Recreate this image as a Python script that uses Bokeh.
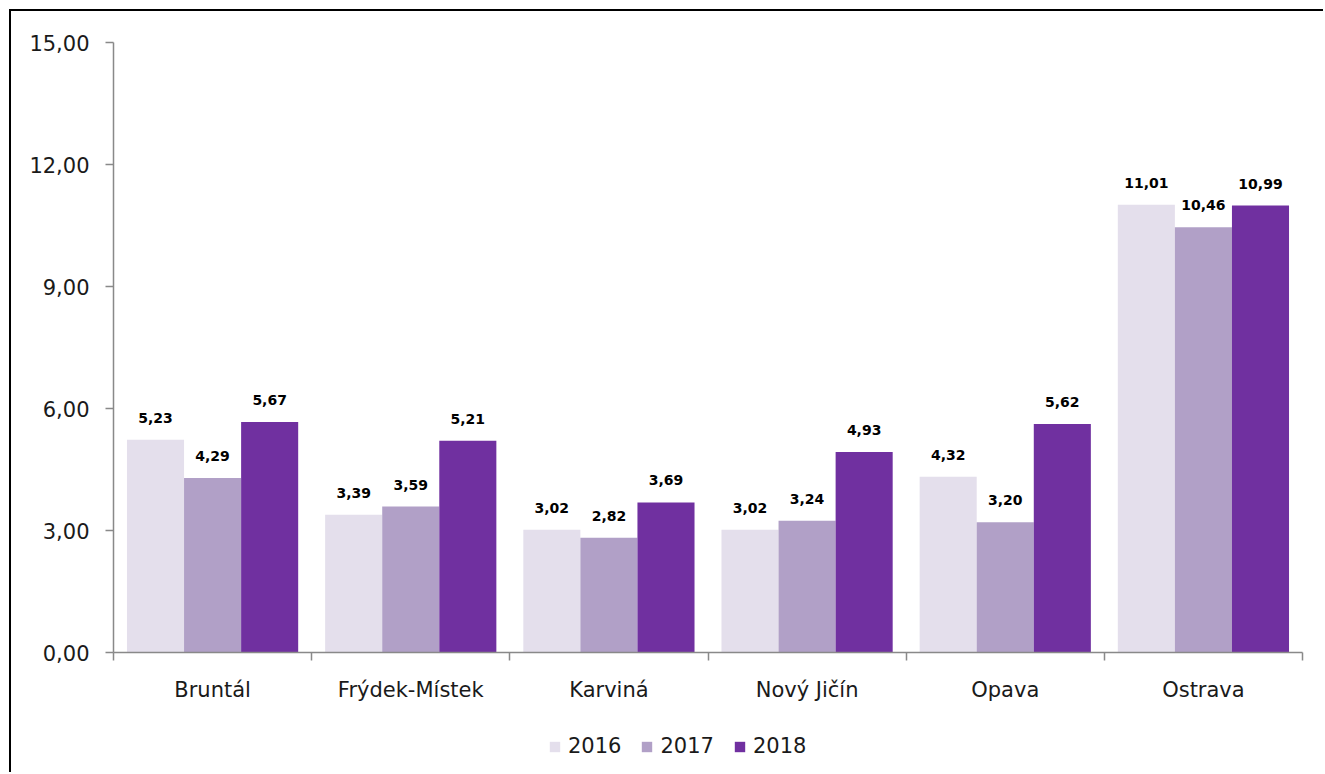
from bokeh.plotting import figure
from bokeh.layouts import column
from bokeh.models import (Range1d, FixedTicker, LinearAxis, Legend, LegendItem,
                          ColumnDataSource, LabelSet)
from bokeh.embed import file_html
from bokeh.resources import INLINE
from bokeh.core.properties import value

cities = ["Bruntál", "Frýdek-Místek", "Karviná", "Nový Jičín", "Opava", "Ostrava"]
years = ["2016", "2017", "2018"]
v2016 = [5.23, 3.39, 3.02, 3.02, 4.32, 11.01]
v2017 = [4.29, 3.59, 2.82, 3.24, 3.20, 10.46]
v2018 = [5.67, 5.21, 3.69, 4.93, 5.62, 10.99]
y_ticks = [0, 3, 6, 9, 12, 15]
y_tick_labels = ["0,00", "3,00", "6,00", "9,00", "12,00", "15,00"]
colors = ["#E4DFEC", "#B1A0C7", "#7030A0"]

FONT = "DejaVu Sans"
TXT = "#1a1a1a"
AX = "#898989"
bar_w = 0.288
W = 1312

p = figure(width=W, height=711, output_backend="svg", toolbar_location=None,
           x_range=Range1d(0, 6), y_range=Range1d(0, 15),
           min_border_left=102, min_border_top=31, min_border_right=W - 102 - 1189,
           min_border_bottom=70, x_axis_type=None, y_axis_type=None)
p.outline_line_color = None
p.xgrid.visible = False

yaxis = LinearAxis(ticker=FixedTicker(ticks=y_ticks),
                   major_label_overrides={t: l for t, l in zip(y_ticks, y_tick_labels)})
yaxis.axis_line_color = AX
yaxis.axis_line_width = 1.5
yaxis.major_tick_line_color = AX
yaxis.major_tick_line_width = 1.5
yaxis.major_tick_out = 8
yaxis.major_tick_in = 0
yaxis.minor_tick_line_color = None
yaxis.major_label_text_font = FONT
yaxis.major_label_text_font_size = "21px"
yaxis.major_label_text_color = TXT
yaxis.major_label_standoff = 16
p.add_layout(yaxis, "left")
p.ygrid.ticker = FixedTicker(ticks=y_ticks)
p.ygrid.grid_line_color = "#D9D9D9"
p.ygrid.grid_line_width = 1.5

centers = [i + 0.5 for i in range(len(cities))]
xaxis = LinearAxis(ticker=FixedTicker(ticks=centers, minor_ticks=list(range(len(cities) + 1))),
                   major_label_overrides={c: n for c, n in zip(centers, cities)})
xaxis.axis_line_color = AX
xaxis.axis_line_width = 1.5
xaxis.major_tick_line_color = None
xaxis.minor_tick_line_color = AX
xaxis.minor_tick_line_width = 1.5
xaxis.minor_tick_out = 8
xaxis.minor_tick_in = 0
xaxis.major_label_text_font = FONT
xaxis.major_label_text_font_size = "21px"
xaxis.major_label_text_color = TXT
xaxis.major_label_standoff = 17
p.add_layout(xaxis, "below")

# legend strip
pl = figure(width=W, height=50, output_backend="svg", toolbar_location=None,
            x_range=Range1d(100, 101), y_range=Range1d(100, 101),
            min_border_left=0, min_border_right=0, min_border_top=0,
            min_border_bottom=4, x_axis_type=None, y_axis_type=None)
pl.outline_line_color = None
pl.grid.visible = False

items = []
for k, (yr, vals, col) in enumerate(zip(years, [v2016, v2017, v2018], colors)):
    xs = [c + (k - 1) * bar_w for c in centers]
    src = ColumnDataSource(dict(x=xs, top=vals,
                                lab=[f"{v:.2f}".replace(".", ",") for v in vals]))
    p.vbar(x="x", top="top", width=bar_w, bottom=0, source=src,
           fill_color=col, line_color=None)
    labels = LabelSet(x="x", y="top", text="lab", source=src, text_align="center",
                      text_baseline="bottom", y_offset=17, text_font=value(FONT),
                      text_font_size="14px", text_font_style="bold", text_color="#000000")
    p.add_layout(labels)
    rl = pl.vbar(x="x", top="top", width=bar_w, bottom=0, source=src,
                 fill_color=col, line_color=None, visible=False)
    items.append(LegendItem(label=yr, renderers=[rl]))

legend = Legend(items=items, orientation="horizontal", location=(435, 10),
                glyph_width=13, glyph_height=13, label_standoff=7, spacing=19,
                label_text_font=FONT, label_text_font_size="21px",
                label_text_color=TXT, border_line_color=None,
                background_fill_alpha=0, padding=2, margin=0, label_height=13,
                click_policy="none")
pl.add_layout(legend, "center")

layout = column(p, pl, spacing=0)
layout.styles = {"border-top": "2px solid black", "border-left": "2px solid black",
                 "margin-left": "9px", "margin-top": "9px"}

open("out.html", "w").write(file_html(layout, INLINE))
